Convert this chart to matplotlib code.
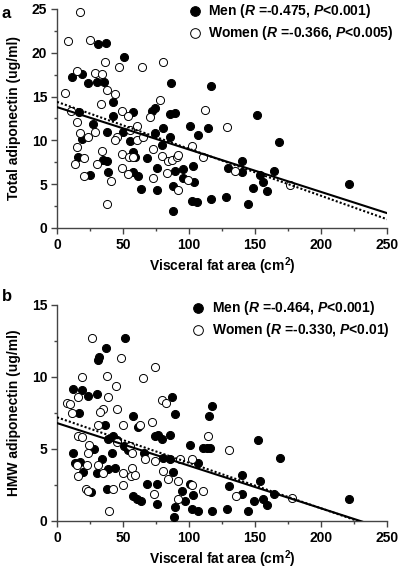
import numpy as np
import matplotlib
matplotlib.use('Agg')
import matplotlib.pyplot as plt
from matplotlib.ticker import MultipleLocator

plt.rcParams['font.family'] = ['Liberation Sans', 'DejaVu Sans']
plt.rcParams['font.weight'] = 'bold'
plt.rcParams['mathtext.fontset'] = 'custom'
plt.rcParams['mathtext.rm'] = 'Liberation Sans:bold'
plt.rcParams['mathtext.it'] = 'Liberation Sans:bold:italic'

# panel a: total adiponectin
men_a_x = [31, 37, 51, 86.4, 11.1, 18.7, 23.7, 30, 35.9, 42.7, 74.2, 71.7, 85.6, 89.4, 57.8, 42.7,
           16.7, 27.5, 85.6, 80.5, 37.6, 117, 151.7, 100.8, 107, 114.6, 168.4, 102.8, 103.8, 102, 106.3,
           116.4, 127.8, 145, 129.8, 139.9, 139.9, 153.8, 156.3, 164.4, 148.3, 158.8, 221.5, 50.2, 18.7,
           55.3, 74.2, 79.3, 16.2, 35, 37.6, 38.4, 25, 57.8, 59.1, 67.9, 57.8, 61.6, 75.5, 63.6, 75.5,
           89.4, 95.7, 95.7, 88.1, 88.1]
men_a_y = [21.0, 21.1, 19.5, 16.6, 17.2, 17.6, 16.5, 16.7, 16.7, 14.4, 13.7, 13.4, 13.0, 13.1, 13.2, 12.8,
           13.2, 11.9, 10.4, 11.4, 11.0, 16.2, 12.9, 11.6, 10.6, 11.4, 9.8, 7.1, 5.2, 3.1, 3.0,
           3.3, 3.5, 2.7, 6.8, 7.6, 6.4, 6.0, 5.3, 6.5, 4.6, 4.2, 5.0, 11.0, 10.2,
           9.9, 10.8, 9.5, 8.1, 7.8, 7.6, 6.4, 6.0, 8.7, 8.1, 8.0, 6.4, 5.9, 6.8, 4.5, 4.3,
           6.5, 6.7, 5.7, 4.8, 1.9]
women_a_x = [17.4, 8.6, 25, 36.4, 47, 64.6, 80.5, 14.9, 28.8, 33.9, 37.6, 44, 6.1, 33.1, 78, 70.5, 49,
             53.5, 10.4, 112, 15.4, 60.4, 55.3, 45.2, 17.4, 23.7, 28.8, 128.5, 102, 110.4, 99.5, 134.8,
             176.5, 43.9, 60.4, 65.4, 14.9, 33.9, 20.7, 13.6, 30, 40.9, 20.7, 37.6, 49, 54.5, 57.8, 49,
             73, 79.3, 54, 73, 83.1, 84.3, 86.9, 90.7, 91.9, 91.9]
women_a_y = [24.7, 21.4, 21.5, 18.9, 18.4, 18.4, 18.9, 17.9, 17.7, 17.6, 15.8, 15.3, 15.4, 14.2, 14.6, 12.7, 13.3,
             12.8, 13.3, 13.5, 12.1, 11.6, 11.2, 10.4, 10.8, 10.4, 11.0, 11.5, 9.4, 8.1, 5.5, 6.5,
             4.9, 10.1, 10.0, 10.4, 9.3, 8.8, 8.0, 7.3, 7.3, 5.4, 5.9, 2.7, 8.5, 8.1, 8.1, 6.9,
             9.0, 8.2, 6.2, 5.7, 6.3, 7.6, 7.8, 8.1, 8.3, 4.3]

# panel b: HMW adiponectin
men_b_x = [51.5, 36.9, 31.3, 32, 12.4, 18.7, 23.7, 30, 87.4, 16.7, 57.8, 89.4, 36.4, 117.2, 115.4, 61.1,
           74.2, 76.7, 79.3, 85.6, 38.9, 42.7, 45.2, 51, 54, 66.1, 80.5, 85.6, 100.8, 110.8, 107, 12.4,
           28.3, 41.4, 17.4, 13.6, 33.9, 38.9, 43.9, 30, 19.9, 67.9, 75.5, 88.1, 94.9, 97, 100.8, 103.3,
           25.8, 37.6, 57.8, 60.3, 63.6, 75.5, 89.4, 88.9, 102, 107, 113.4, 115.9, 152.5, 168.9, 139.9,
           153.8, 130.5, 139.9, 149.2, 156.3, 159.3, 164.4, 221.5, 145, 128.5, 117.2]
men_b_y = [12.7, 12.0, 11.2, 11.4, 9.2, 9.1, 8.7, 8.8, 8.6, 7.5, 7.3, 7.4, 6.7, 8.0, 7.3, 6.5,
           5.9, 6.0, 5.7, 6.0, 5.7, 5.9, 5.6, 5.2, 4.9, 4.7, 4.4, 4.3, 5.3, 5.1, 4.0, 4.7,
           5.0, 4.7, 4.1, 4.0, 4.3, 3.6, 3.7, 3.3, 3.4, 2.6, 2.6, 3.4, 2.1, 1.4, 2.6, 1.8,
           2.0, 2.2, 1.7, 1.5, 1.4, 1.2, 1.0, 0.3, 0.8, 0.7, 5.1, 5.1, 5.6, 4.4, 3.2,
           2.8, 2.4, 1.9, 1.4, 1.5, 1.1, 1.9, 1.5, 0.7, 0.8, 0.7]
women_b_x = [26.8, 48.2, 74.2, 65.4, 18.7, 37.6, 44.4, 16.2, 38.4, 7.3, 9.8, 79.3, 82.3, 35, 45.2, 11.1,
             32.6, 71.7, 62.9, 50.2, 31.3, 114.6, 16.2, 18.7, 24.5, 45.2, 55.3, 57, 66.7, 74.2, 93.2, 102,
             23.2, 14.9, 22.5, 30.8, 35, 16.2, 50.2, 56.5, 56, 50.2, 59.1, 80.5, 84.3, 91.9, 91.4, 21.7,
             23.7, 42.7, 73.7, 39.4, 110.8, 102, 130.3, 135.6, 177.8]
women_b_y = [12.7, 11.3, 10.7, 9.9, 10.0, 10.1, 9.4, 8.6, 8.6, 8.2, 8.1, 8.4, 8.2, 7.8, 7.8, 7.5,
             7.6, 6.9, 6.7, 6.7, 6.7, 5.9, 5.9, 5.8, 5.3, 5.5, 5.2, 4.7, 4.3, 4.2, 4.3, 4.3,
             4.7, 3.9, 3.9, 3.9, 3.3, 3.1, 3.3, 3.7, 3.1, 2.5, 3.2, 3.5, 2.9, 2.8, 1.5, 2.2,
             2.1, 2.2, 1.9, 0.7, 2.1, 2.5, 4.9, 1.7, 1.6]

# regression lines: (intercept, slope)
fit_men_a = (13.8, -0.0484)
fit_women_a = (14.4, -0.0536)
fit_men_b = (6.8, -0.0296)
fit_women_b = (7.2, -0.0316)

legend_a = ['Men ($\\mathit{R}$ =-0.475, $\\mathit{P}$<0.001)', 'Women ($\\mathit{R}$ =-0.366, $\\mathit{P}$<0.005)']
legend_b = ['Men ($\\mathit{R}$ =-0.464, $\\mathit{P}$<0.001)', 'Women ($\\mathit{R}$ =-0.330, $\\mathit{P}$<0.01)']

fig = plt.figure(figsize=(4, 5.72), dpi=100)
ax_a = fig.add_axes([0.1425, 0.6014, 0.825, 0.3829])
ax_b = fig.add_axes([0.1425, 0.0892, 0.825, 0.3776])


def draw_panel(ax, mx, my, wx, wy, fm, fw, ymax, ylabel, labels, leg_anchor):
    ax.scatter(mx, my, s=34, c='black', edgecolors='black', linewidths=0.7, clip_on=False, zorder=3,
               label=labels[0])
    ax.scatter(wx, wy, s=34, c='white', edgecolors='black', linewidths=0.7, clip_on=False, zorder=3,
               label=labels[1])
    xs = np.array([0, 250])
    ax.plot(xs, fm[0] + fm[1] * xs, color='black', lw=1.5, zorder=4)
    ax.plot(xs, fw[0] + fw[1] * xs, color='black', lw=1.5, ls=(0, (1, 1)), zorder=4)
    ax.set_xlim(0, 250)
    ax.set_ylim(0, ymax)
    ax.xaxis.set_major_locator(MultipleLocator(50))
    ax.xaxis.set_minor_locator(MultipleLocator(25))
    ax.yaxis.set_major_locator(MultipleLocator(5))
    ax.yaxis.set_minor_locator(MultipleLocator(2.5))
    for s in ['top', 'right']:
        ax.spines[s].set_visible(False)
    for s in ['left', 'bottom']:
        ax.spines[s].set_color('#444444')
        ax.spines[s].set_linewidth(1.0)
    ax.tick_params(which='major', length=4, width=1, color='#444444', labelsize=10, pad=3)
    ax.tick_params(which='minor', length=2, width=1, color='#444444')
    for t in ax.get_xticklabels() + ax.get_yticklabels():
        t.set_fontweight('bold')
    ax.set_xlabel('Visceral fat area (cm$^{2}$)', fontsize=10, fontweight='bold', labelpad=3)
    ax.set_ylabel(ylabel, fontsize=10, fontweight='bold', labelpad=8)
    leg = ax.legend(loc='upper left', bbox_to_anchor=leg_anchor, frameon=False, fontsize=10,
                    scatterpoints=1, handlelength=0.8, handletextpad=0.6, borderaxespad=0,
                    borderpad=0, labelspacing=0.3, markerscale=1.2)
    for t in leg.get_texts():
        t.set_fontweight('bold')


draw_panel(ax_a, men_a_x, men_a_y, women_a_x, women_a_y, fit_men_a, fit_women_a, 25,
           'Total adiponectin (ug/ml)', legend_a, (0.40, 1.033))
draw_panel(ax_b, men_b_x, men_b_y, women_b_x, women_b_y, fit_men_b, fit_women_b, 15,
           'HMW adiponectin (ug/ml)', legend_b, (0.41, 1.03))

fig.text(0.005, 0.99, 'a', fontsize=12, fontweight='bold', va='top')
fig.text(0.005, 0.495, 'b', fontsize=12, fontweight='bold', va='top')

plt.savefig('out.png', dpi=100)
